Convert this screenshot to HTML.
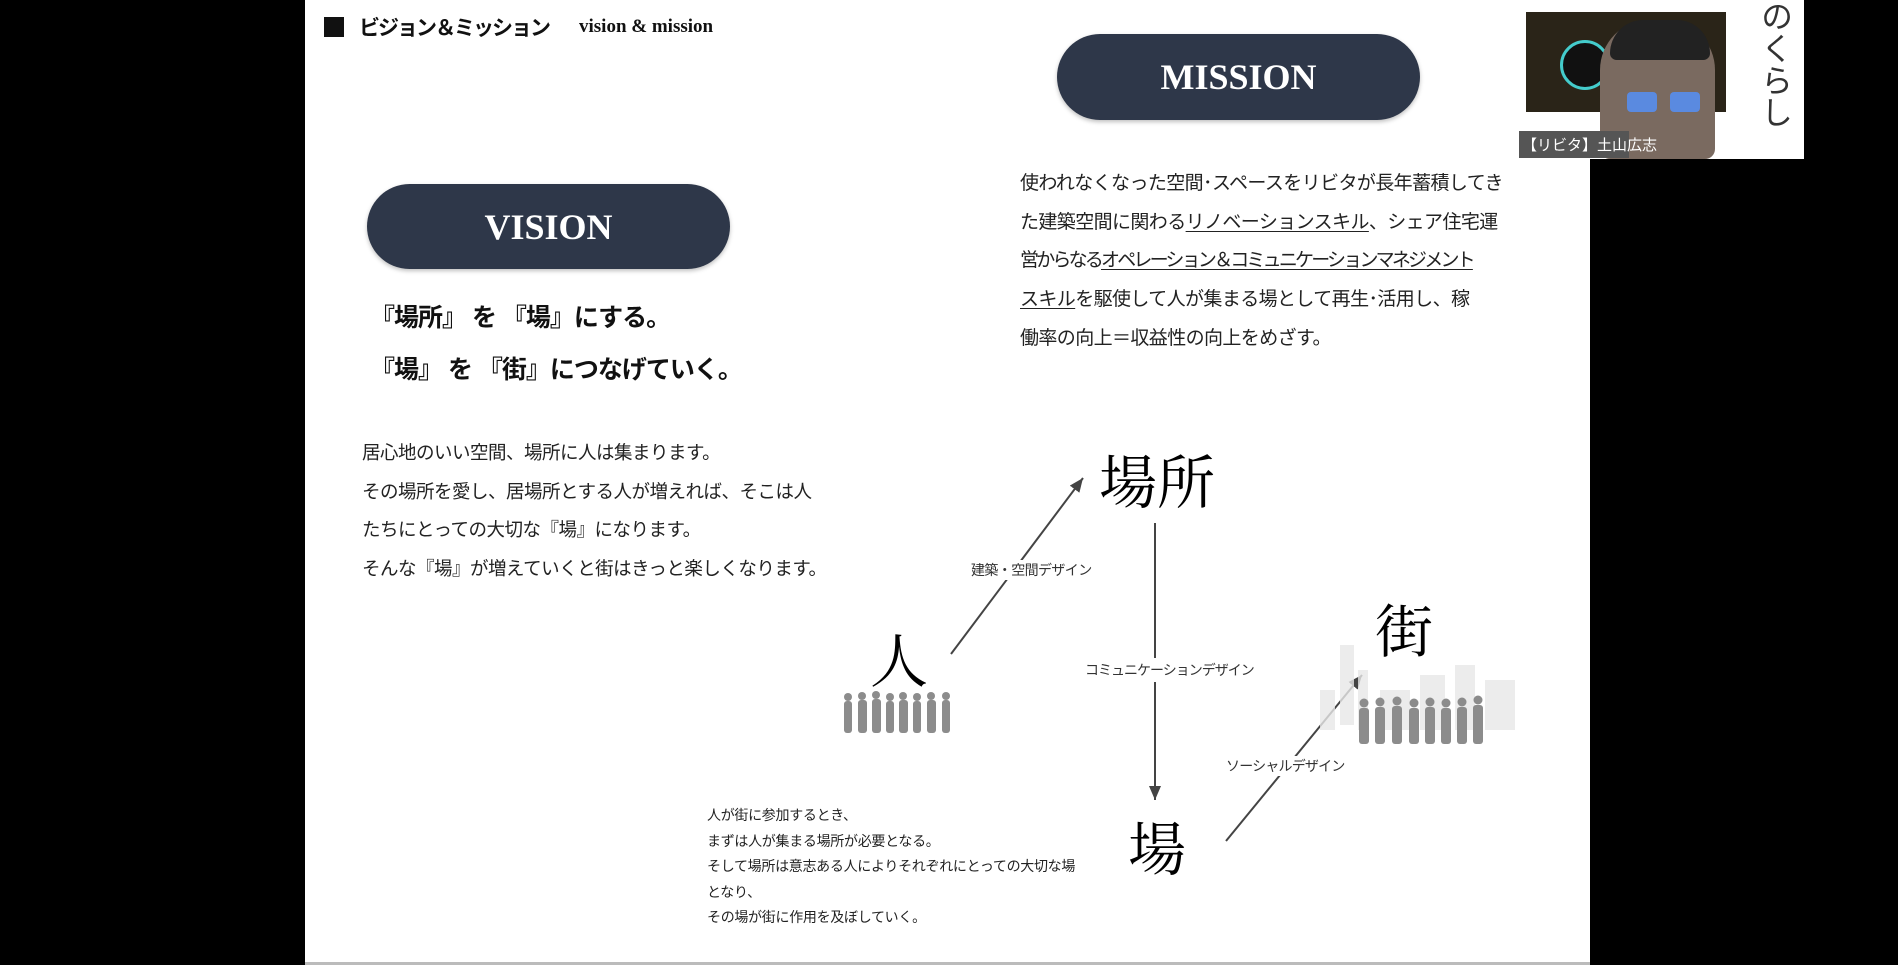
<!DOCTYPE html>
<html><head><meta charset="utf-8"><style>
*{margin:0;padding:0;box-sizing:border-box}
body{width:1898px;height:965px;background:#000;position:relative;overflow:hidden;font-family:"Liberation Sans","Noto Sans CJK JP",sans-serif;color:#111}
.a{position:absolute;white-space:nowrap}
.pill{position:absolute;background:#2e3749;border-radius:44px;color:#fff;font-family:"Liberation Serif","Noto Serif CJK SC",serif;font-weight:bold;font-size:36px;display:flex;align-items:center;justify-content:center;box-shadow:0 2px 4px rgba(0,0,0,.25)}
.cjk{font-family:"Liberation Sans","Noto Sans CJK JP",sans-serif}
.big{font-family:"Noto Serif CJK SC","Noto Sans CJK JP",serif;font-size:58px;line-height:1;color:#000}
u{text-underline-offset:3px}
</style></head><body>
<div class="a" style="left:305px;top:0;width:1285px;height:962px;background:#fff"></div>
<div class="a" style="left:305px;top:962px;width:1285px;height:3px;background:#bbb"></div>
<div class="a" style="left:1519px;top:0;width:285px;height:159px;background:#fff"></div>

<!-- header -->
<div class="a" style="left:324px;top:17px;width:20px;height:20px;background:#111"></div>
<div class="a cjk" style="left:359px;top:12px;font-size:21px;font-weight:bold;letter-spacing:-2px">ビジョン＆ミッション</div>
<div class="a" style="left:579px;top:16px;font-family:'Liberation Serif',serif;font-weight:bold;font-size:19px">vision &amp; mission</div>

<div class="pill" style="left:1057px;top:34px;width:363px;height:86px">MISSION</div>
<div class="pill" style="left:367px;top:184px;width:363px;height:85px">VISION</div>

<div class="a cjk" style="left:370px;top:298px;font-size:25px;font-weight:bold;letter-spacing:-1px">『場所』 を 『場』にする。</div>
<div class="a cjk" style="left:370px;top:350px;font-size:25px;font-weight:bold;letter-spacing:-1px">『場』 を 『街』につなげていく。</div>

<div class="a cjk" style="left:1020px;top:165px;font-size:19px;line-height:38.7px;color:#222;letter-spacing:-0.6px">使われなくなった空間･スペースをリビタが長年蓄積してき<br>た建築空間に関わる<u>リノベーションスキル</u>、シェア住宅運<br><span style="letter-spacing:-2.8px">営からなる<u>オペレーション＆コミュニケーションマネジメント</u></span><br><u>スキル</u>を駆使して人が集まる場として再生･活用し、稼<br>働率の向上＝収益性の向上をめざす。</div>

<div class="a cjk" style="left:362px;top:434px;font-size:18.5px;line-height:38.7px;color:#222;letter-spacing:-0.5px">居心地のいい空間、場所に人は集まります。<br>その場所を愛し、居場所とする人が増えれば、そこは人<br>たちにとっての大切な『場』になります。<br>そんな『場』が増えていくと街はきっと楽しくなります。</div>

<!-- diagram -->
<svg class="a" style="left:0;top:0" width="1898" height="965">
<defs><marker id="ar" markerWidth="8" markerHeight="8" refX="7" refY="4" orient="auto"><path d="M0,1 L7,4 L0,7 Z" fill="#444"/></marker></defs>
<g stroke="#444" stroke-width="2" fill="none">
<line x1="951" y1="654" x2="1083" y2="478" marker-end="url(#ar)"/>
<line x1="1155" y1="523" x2="1155" y2="800" marker-end="url(#ar)"/>
<line x1="1226" y1="841" x2="1362" y2="675" marker-end="url(#ar)"/>
</g>
<g fill="#e8e8e8" opacity=".8">
<rect x="1340" y="645" width="14" height="80"/><rect x="1358" y="670" width="10" height="60"/><rect x="1380" y="690" width="30" height="40"/><rect x="1420" y="675" width="25" height="55"/><rect x="1455" y="665" width="20" height="65"/><rect x="1485" y="680" width="30" height="50"/><rect x="1320" y="690" width="15" height="40"/>
</g>
<g fill="#8c8c8c">
<circle cx="848" cy="697" r="4"/><rect x="844" y="701" width="8" height="32" rx="3"/>
<circle cx="862" cy="696" r="4"/><rect x="858" y="700" width="9" height="33" rx="3"/>
<circle cx="876" cy="695" r="4"/><rect x="872" y="699" width="9" height="34" rx="3"/>
<circle cx="890" cy="697" r="4"/><rect x="886" y="701" width="8" height="32" rx="3"/>
<circle cx="903" cy="696" r="4"/><rect x="899" y="700" width="9" height="33" rx="3"/>
<circle cx="917" cy="697" r="4"/><rect x="913" y="701" width="8" height="32" rx="3"/>
<circle cx="931" cy="696" r="4"/><rect x="927" y="700" width="9" height="33" rx="3"/>
<circle cx="946" cy="696" r="4"/><rect x="942" y="700" width="8" height="33" rx="3"/>
<circle cx="1364" cy="703" r="4.5"/><rect x="1359" y="708" width="10" height="36" rx="3"/>
<circle cx="1380" cy="702" r="4.5"/><rect x="1375" y="707" width="10" height="37" rx="3"/>
<circle cx="1397" cy="701" r="4.5"/><rect x="1392" y="706" width="10" height="38" rx="3"/>
<circle cx="1414" cy="703" r="4.5"/><rect x="1409" y="708" width="10" height="36" rx="3"/>
<circle cx="1430" cy="702" r="4.5"/><rect x="1425" y="707" width="10" height="37" rx="3"/>
<circle cx="1446" cy="703" r="4.5"/><rect x="1441" y="708" width="10" height="36" rx="3"/>
<circle cx="1462" cy="702" r="4.5"/><rect x="1457" y="707" width="10" height="37" rx="3"/>
<circle cx="1478" cy="700" r="4.5"/><rect x="1473" y="705" width="10" height="39" rx="3"/>
</g>
</svg>
<div class="a big" style="left:1099px;top:449px">場所</div>
<div class="a big" style="left:870px;top:628px">人</div>
<div class="a big" style="left:1375px;top:598px">街</div>
<div class="a big" style="left:1128px;top:816px">場</div>
<div class="a cjk" style="left:969px;top:560px;font-size:14px;letter-spacing:-0.6px;background:#fff;color:#333;padding:0 2px">建築・空間デザイン</div>
<div class="a cjk" style="left:1083px;top:658px;font-size:14px;letter-spacing:-1px;background:#fff;color:#333;padding:2px">コミュニケーションデザイン</div>
<div class="a cjk" style="left:1224px;top:756px;font-size:14px;letter-spacing:-0.8px;background:#fff;color:#333;padding:0 2px">ソーシャルデザイン</div>

<div class="a cjk" style="left:707px;top:803px;font-size:14px;line-height:25.6px;color:#222;letter-spacing:-0.3px">人が街に参加するとき、<br>まずは人が集まる場所が必要となる。<br>そして場所は意志ある人によりそれぞれにとっての大切な場<br>となり、<br>その場が街に作用を及ぼしていく。</div>

<!-- webcam -->
<div class="a" style="left:1526px;top:12px;width:200px;height:100px;background:#2a2418"></div>
<div class="a" style="left:1560px;top:40px;width:50px;height:50px;border-radius:50%;border:3px solid #4cc;background:#111"></div>
<div class="a" style="left:1600px;top:20px;width:115px;height:139px;background:#7a6a60;border-radius:50px 50px 10px 10px"></div>
<div class="a" style="left:1610px;top:20px;width:100px;height:40px;background:#222;border-radius:50px 50px 10px 10px"></div>
<div class="a" style="left:1627px;top:92px;width:30px;height:20px;background:#5a8ae0;border-radius:4px"></div>
<div class="a" style="left:1670px;top:92px;width:30px;height:20px;background:#5a8ae0;border-radius:4px"></div>
<div class="a" style="left:1752px;top:0;font-size:32px;color:#333;writing-mode:vertical-rl" >のくらし</div>
<div class="a" style="left:1519px;top:131px;width:110px;height:27px;background:#555"></div>
<div class="a cjk" style="left:1522px;top:134px;font-size:15px;color:#fff">【リビタ】土山広志</div>
</body></html>
